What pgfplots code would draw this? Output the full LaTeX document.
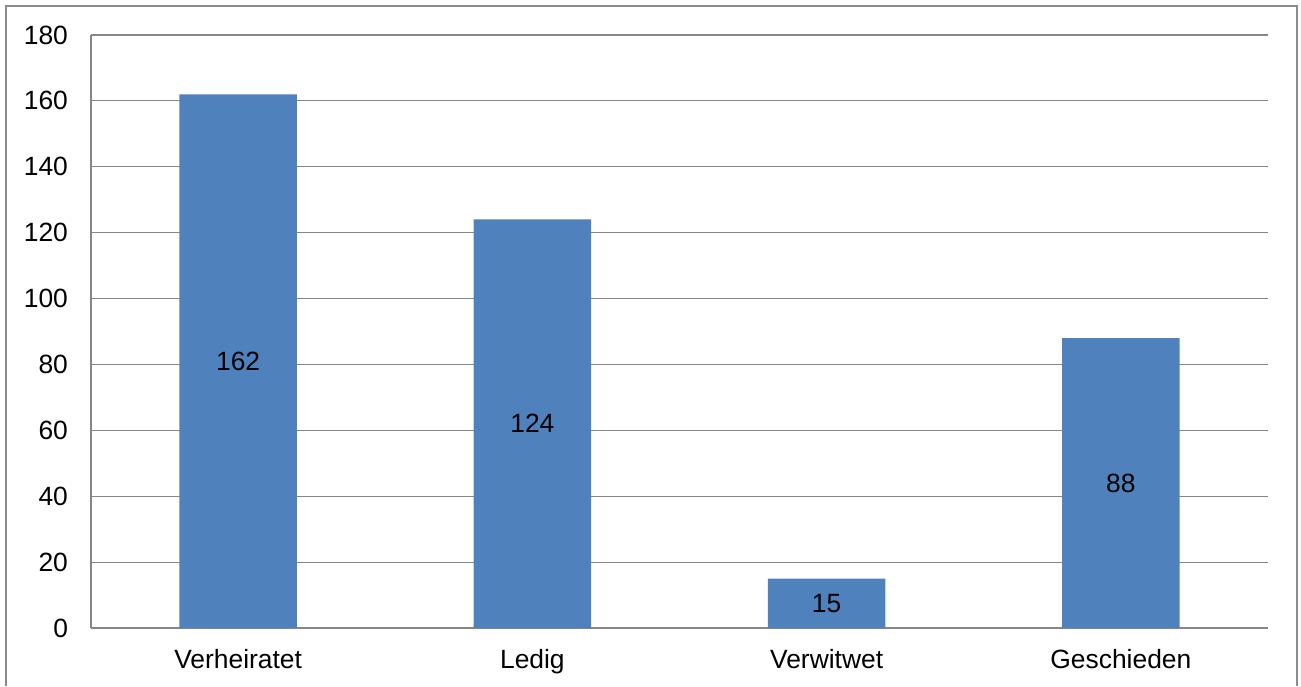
\documentclass[border=0pt]{standalone}
\usepackage{pgfplots}
\pgfplotsset{compat=1.18}
\usepackage{fontspec}
\setmainfont{Liberation Sans}
\definecolor{barblue}{HTML}{4F81BD}
\definecolor{gridgray}{HTML}{868686}
\definecolor{framegray}{HTML}{8C8C8C}
\begin{document}
\begin{tikzpicture}[x=1pt,y=1pt]
  % page extent and outer chart frame (open at the bottom)
  \useasboundingbox (-45.5,-29) rectangle (605,314);
  \draw[framegray, line width=0.6pt] (-42.5,-29) -- (-42.5,311) -- (603,311) -- (603,-29);
  \begin{axis}[
    at={(0,0)}, anchor=south west,
    scale only axis,
    width=588.5pt, height=296.5pt,
    xmin=-0.5, xmax=3.5,
    ymin=0, ymax=180,
    ytick={0,20,...,180},
    xtick={0,1,2,3},
    xticklabels={Verheiratet,Ledig,Verwitwet,Geschieden},
    major tick length=0pt,
    axis lines*=left,
    axis line style={gridgray, line width=0.6pt},
    ymajorgrids,
    major grid style={gridgray, line width=0.6pt},
    tick label style={font=\fontsize{13.2}{15}\selectfont, text=black},
    /pgf/number format/assume math mode=true,
    yticklabel style={xshift=-8pt},
    xticklabel style={yshift=-7pt},
    ybar, bar width=0.4,
    clip=false,
  ]
    % value labels sit at half the bar height (296.5pt / 180 / 2 per unit)
    \addplot[fill=barblue, draw=none,
      visualization depends on={y \as \rawy},
      nodes near coords,
      nodes near coords style={font=\fontsize{13.2}{15}\selectfont,
        text=black, anchor=center, yshift=-\rawy*0.823611pt},
    ] coordinates {(0,162) (1,124) (2,15) (3,88)};
  \end{axis}
\end{tikzpicture}
\end{document}
